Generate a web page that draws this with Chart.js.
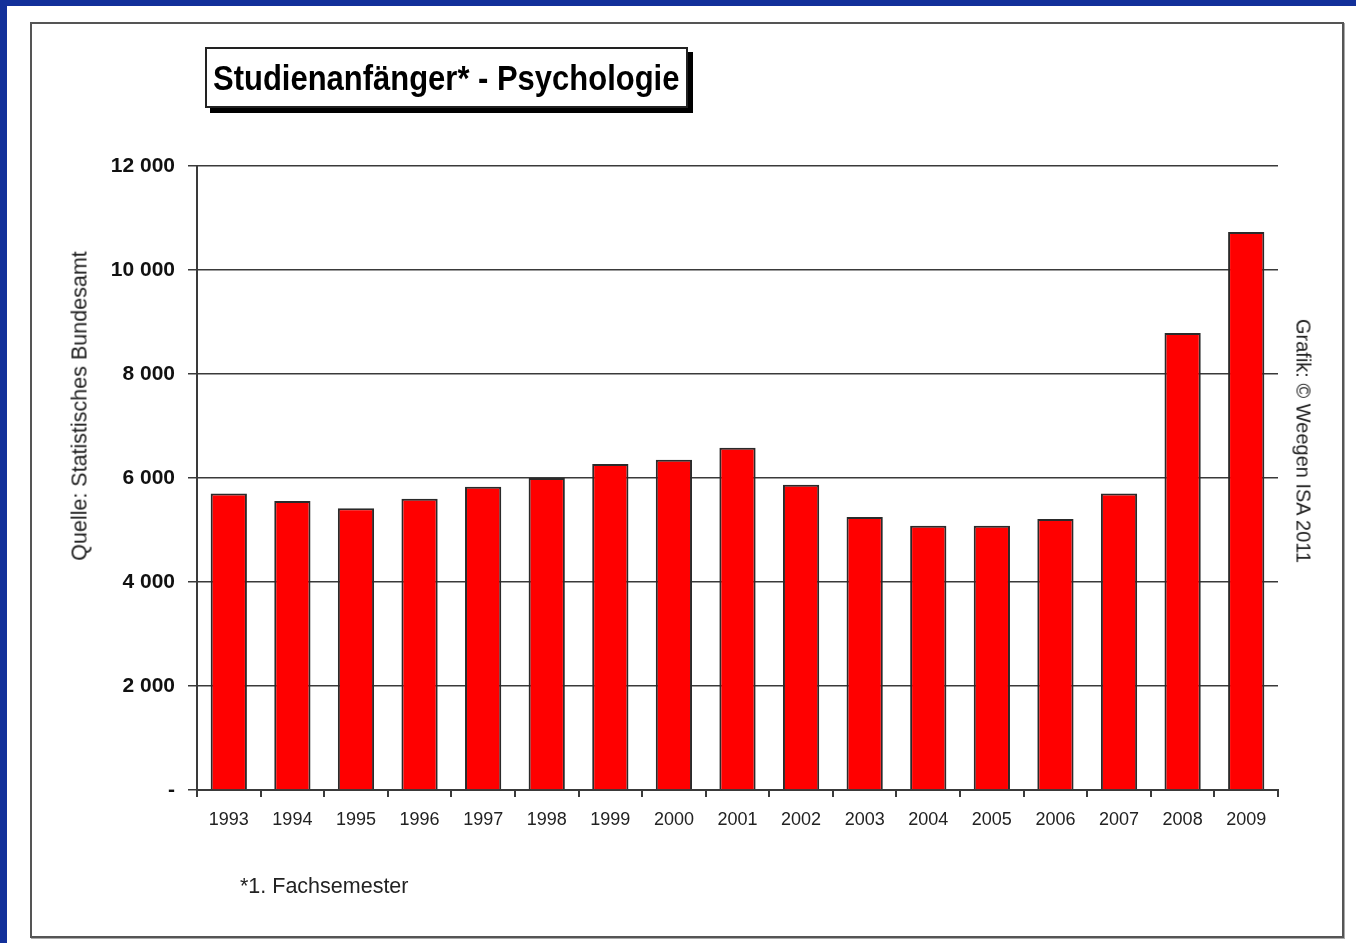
<!DOCTYPE html>
<html>
<head>
<meta charset="utf-8">
<script src="https://cdn.jsdelivr.net/npm/chart.js@4.4.1/dist/chart.umd.min.js"></script>
<style>
  body { margin: 0; background: #12309a; }
  #page { position: absolute; left: 7px; top: 6px; width: 1349px; height: 937px; background: #fff; overflow: hidden; }
  #frame { position: absolute; left: 23px; top: 16px; width: 1310px; height: 912px; border: 2px solid #555; box-shadow: 1px 1px 0 #aaa; }
  #wrap { position: absolute; left: -7px; top: -6px; width: 1356px; height: 943px; }
  #titel { position: absolute; left: 198px; top: 41px; width: 473px; height: 57px; border: 2px solid #222; box-shadow: 5px 5px 0 #000; background: #fff;
           line-height: 57px; padding-left: 6px; white-space: nowrap; overflow: hidden; }
  #titel span { display: inline-block; font: bold 35px/57px "Liberation Sans", Arial, sans-serif; transform: scaleX(0.885); transform-origin: left center; }
  .dreh { position: absolute; font-family: "Liberation Sans", Arial, sans-serif; color: #222; white-space: nowrap; }
  #quelle { left: 73px; top: 400px; font-size: 21.5px; transform: translate(-50%, -50%) rotate(-90deg); }
  #grafik { left: 1296px; top: 435px; font-size: 20px; transform: translate(-50%, -50%) rotate(90deg); }
  #fuss { position: absolute; left: 233px; top: 868px; font: 21.5px "Liberation Sans", Arial, sans-serif; color: #222; }
</style>
</head>
<body>
<div id="page">
  <div id="frame"></div>
  <div id="wrap"><canvas id="chart" width="1356" height="943"></canvas></div>
  <div id="titel"><span>Studienanfänger* - Psychologie</span></div>
  <div class="dreh" id="quelle">Quelle: Statistisches Bundesamt</div>
  <div class="dreh" id="grafik">Grafik: © Weegen ISA 2011</div>
  <div id="fuss">*1. Fachsemester</div>
</div>
<script>
// Daten
const jahre = ['1993', '1994', '1995', '1996', '1997', '1998', '1999', '2000', '2001',
               '2002', '2003', '2004', '2005', '2006', '2007', '2008', '2009'];
const anfaenger = [5700, 5560, 5420, 5600, 5830, 6000, 6270, 6350, 6580,
                   5870, 5250, 5080, 5080, 5210, 5700, 8790, 10730];
const yTicks = [0, 2000, 4000, 6000, 8000, 10000, 12000];

const linienFarbe = '#3a3a3a';

new Chart(document.getElementById('chart'), {
    type: 'bar',
    data: {
        labels: jahre,
        datasets: [{
            data: anfaenger,
            backgroundColor: '#ff0000',
            borderColor: '#2a2a2a',
            borderWidth: 2,
            categoryPercentage: 1,
            barPercentage: 0.57
        }]
    },
    options: {
        responsive: false,
        animation: false,
        layout: { padding: { left: 77, right: 78, top: 166, bottom: 103 } },
        plugins: { legend: { display: false }, tooltip: { enabled: false } },
        scales: {
            x: {
                afterFit: s => { s.height = 50; },
                grid: { offset: true, drawOnChartArea: false, drawTicks: true, tickLength: 7, color: linienFarbe, lineWidth: 2 },
                border: { display: true, color: linienFarbe, width: 2 },
                ticks: { color: '#222', padding: 12, font: { family: "'Liberation Sans', Arial", size: 18 } }
            },
            y: {
                min: 0,
                max: 12000,
                afterFit: s => { s.width = 120; },
                afterBuildTicks: s => { s.ticks = yTicks.map(v => ({ value: v })); },
                grid: { color: linienFarbe, lineWidth: 1.5, tickLength: 9 },
                border: { display: true, color: linienFarbe, width: 2 },
                ticks: {
                    color: '#111',
                    padding: 13,
                    font: { family: "'Liberation Sans', Arial", size: 21, weight: 'bold' },
                    callback: v => v === 0 ? '-' : String(v).replace(/\B(?=(\d{3})+(?!\d))/g, ' ')
                }
            }
        }
    }
});
</script>
</body>
</html>
